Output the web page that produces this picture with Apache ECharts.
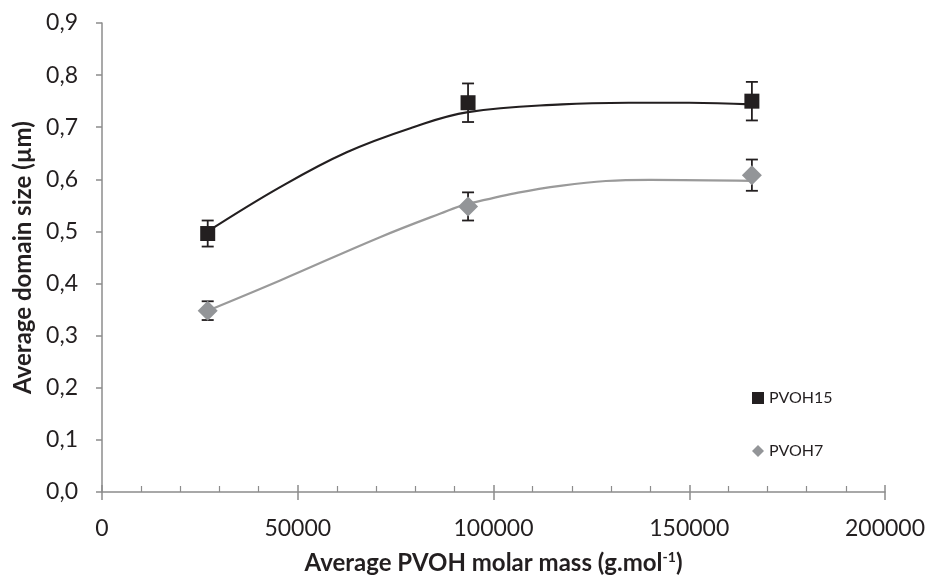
<!DOCTYPE html>
<html>
<head>
<meta charset="utf-8">
<script src="https://cdn.jsdelivr.net/npm/echarts@6/dist/echarts.min.js"></script>
<style>
  html, body { margin: 0; padding: 0; background: #ffffff; }
  #chart { width: 928px; height: 581px; }
</style>
</head>
<body>
<div id="chart"></div>
<script>
// ---- data ----
const xTicks = [0, 50000, 100000, 150000, 200000];
const yTicks = [0, 0.1, 0.2, 0.3, 0.4, 0.5, 0.6, 0.7, 0.8, 0.9];

const pvoh15X = [27000, 93500, 166000];
const pvoh15Y = [0.496, 0.747, 0.750];
const pvoh15Err = [0.025, 0.037, 0.037];

const pvoh7X = [27000, 93500, 166000];
const pvoh7Y = [0.348, 0.548, 0.608];
const pvoh7Err = [0.018, 0.027, 0.030];

// trend curves
const trend15X = [27000, 45500, 62500, 79500, 93500, 117500, 134500, 150000, 166000];
const trend15Y = [0.500, 0.585, 0.652, 0.700, 0.729, 0.744, 0.747, 0.747, 0.744];
const trend7X = [27000, 45500, 71000, 86300, 93500, 117500, 140000, 166000];
const trend7Y = [0.348, 0.406, 0.489, 0.534, 0.553, 0.588, 0.599, 0.597];

// ---- build ----
const FONT = 'Lato';
const TXT = '#231f20';
const AXIS = '#8c8c8c';
const BLACK = '#231f20';
const GREY = '#939598';

const zip = (xs, ys) => xs.map((x, i) => [x, ys[i]]);
const errData = (xs, ys, es) => xs.map((x, i) => [x, ys[i] - es[i], ys[i] + es[i]]);

function errorBarRender(params, api) {
  const x = api.value(0);
  const lo = api.coord([x, api.value(1)]);
  const hi = api.coord([x, api.value(2)]);
  const cap = 6;
  const style = { stroke: BLACK, lineWidth: 1.8 };
  return {
    type: 'group',
    children: [
      { type: 'line', shape: { x1: lo[0], y1: lo[1], x2: hi[0], y2: hi[1] }, style },
      { type: 'line', shape: { x1: lo[0] - cap, y1: lo[1], x2: lo[0] + cap, y2: lo[1] }, style },
      { type: 'line', shape: { x1: hi[0] - cap, y1: hi[1], x2: hi[0] + cap, y2: hi[1] }, style }
    ]
  };
}

const chart = echarts.init(document.getElementById('chart'), null, { renderer: 'canvas' });

const xMin = xTicks[0], xMax = xTicks[xTicks.length - 1], xInt = xTicks[1] - xTicks[0];
const yMin = yTicks[0], yMax = yTicks[yTicks.length - 1];

chart.setOption({
  animation: false,
  backgroundColor: '#ffffff',
  textStyle: { fontFamily: FONT },
  grid: { left: 102, right: 43, top: 23, bottom: 89, containLabel: false, outerBoundsMode: 'none' },
  legend: {
    data: ['PVOH15', 'PVOH7'],
    orient: 'vertical',
    left: 747,
    top: 385,
    padding: 5,
    itemWidth: 12,
    itemHeight: 12,
    itemGap: 37,
    textStyle: { fontFamily: FONT, fontSize: 16, color: TXT, lineHeight: 16 }
  },
  xAxis: [{
    type: 'value',
    min: xMin, max: xMax, interval: xInt,
    axisLine: { show: true, lineStyle: { color: AXIS, width: 1.5 } },
    axisTick: { show: true, inside: true, length: 7, lineStyle: { color: AXIS, width: 1.5 } },
    minorTick: { show: true, splitNumber: 5, length: 6, lineStyle: { color: AXIS, width: 1.2 } },
    splitLine: { show: false },
    axisLabel: { color: TXT, fontSize: 23, fontFamily: FONT, margin: 25, formatter: v => String(v) },
    name: '{a|Average PVOH molar mass (g.mol}{s|-1}{a|)}',
    nameLocation: 'middle',
    nameGap: 57,
    nameTextStyle: {
      rich: {
        a: { fontFamily: FONT, fontSize: 24, fontWeight: 'bold', color: TXT, lineHeight: 28 },
        s: { fontFamily: FONT, fontSize: 14, fontWeight: 'bold', color: TXT, padding: [0, 0, 12, 0] }
      }
    }
  }, {
    type: 'value',
    gridIndex: 0,
    position: 'bottom',
    offset: 0,
    min: xMin, max: xMax, interval: xInt,
    axisLine: { show: false },
    axisTick: { show: true, inside: false, length: 8, lineStyle: { color: AXIS, width: 1.5 } },
    axisLabel: { show: false },
    splitLine: { show: false }
  }],
  yAxis: {
    type: 'value',
    min: yMin, max: yMax, interval: 0.1,
    axisLine: { show: true, lineStyle: { color: AXIS, width: 1.5 } },
    axisTick: { show: true, inside: false, length: 6, lineStyle: { color: AXIS, width: 1.5 } },
    splitLine: { show: false },
    axisLabel: {
      color: TXT, fontSize: 23, fontFamily: FONT, margin: 24,
      formatter: v => v.toFixed(1).replace('.', ',')
    },
    name: 'Average domain size (µm)',
    nameLocation: 'middle',
    nameGap: 67,
    nameTextStyle: { fontFamily: FONT, fontSize: 24, fontWeight: 'bold', color: TXT }
  },
  series: [
    {
      name: 'trend15', type: 'line', xAxisIndex: 0, data: zip(trend15X, trend15Y),
      smooth: 0.4, showSymbol: false, symbol: 'none', silent: true, z: 2,
      lineStyle: { color: BLACK, width: 2.2 }
    },
    {
      name: 'trend7', type: 'line', xAxisIndex: 0, data: zip(trend7X, trend7Y),
      smooth: 0.4, showSymbol: false, symbol: 'none', silent: true, z: 2,
      lineStyle: { color: '#9a9a9a', width: 2.2 }
    },
    {
      name: 'err15', type: 'custom', xAxisIndex: 0, renderItem: errorBarRender,
      data: errData(pvoh15X, pvoh15Y, pvoh15Err), z: 3, encode: { x: 0, y: [1, 2] }
    },
    {
      name: 'err7', type: 'custom', xAxisIndex: 0, renderItem: errorBarRender,
      data: errData(pvoh7X, pvoh7Y, pvoh7Err), z: 3, encode: { x: 0, y: [1, 2] }
    },
    {
      name: 'PVOH15', type: 'scatter', xAxisIndex: 0, data: zip(pvoh15X, pvoh15Y),
      symbol: 'rect', symbolSize: 15, z: 4,
      itemStyle: { color: BLACK, opacity: 1 }
    },
    {
      name: 'PVOH7', type: 'scatter', xAxisIndex: 0, data: zip(pvoh7X, pvoh7Y),
      symbol: 'diamond', symbolSize: [20, 20], z: 4,
      itemStyle: { color: GREY, opacity: 1 }
    }
  ]
});
</script>
</body>
</html>
